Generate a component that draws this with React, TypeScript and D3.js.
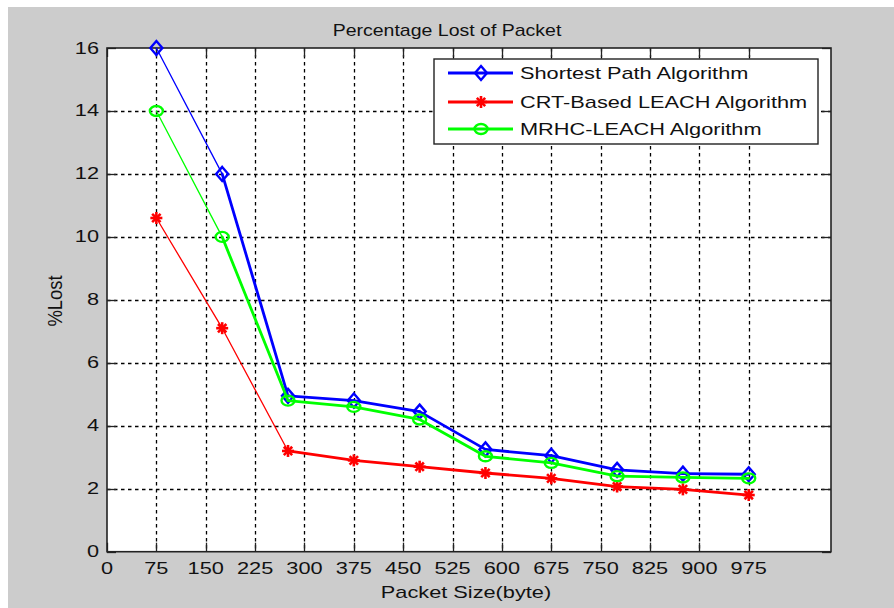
import * as d3 from 'd3';
import React from 'react';

// values
const packetSizes = [75, 175, 275, 375, 475, 575, 675, 775, 875, 975];
const shortestPath = [16, 12, 4.95, 4.8, 4.45, 3.25, 3.05, 2.6, 2.48, 2.46];
const crtLeach = [10.6, 7.1, 3.2, 2.9, 2.7, 2.5, 2.33, 2.07, 1.98, 1.8];
const mrhcLeach = [14, 10, 4.8, 4.6, 4.2, 3.03, 2.82, 2.4, 2.36, 2.33];

const xTicks = [0, 75, 150, 225, 300, 375, 450, 525, 600, 675, 750, 825, 900, 975];
const yTicks = [0, 2, 4, 6, 8, 10, 12, 14, 16];

const seriesNames = ['Shortest Path Algorithm', 'CRT-Based LEACH Algorithm', 'MRHC-LEACH Algorithm'];

type Marker = 'diamond' | 'star' | 'circle';

const series = [
  { name: seriesNames[0], values: shortestPath, color: '#0000ff', marker: 'diamond' as Marker, thin: 1 },
  { name: seriesNames[1], values: crtLeach, color: '#ff0000', marker: 'star' as Marker, thin: 2 },
  { name: seriesNames[2], values: mrhcLeach, color: '#00ff00', marker: 'circle' as Marker, thin: 1 },
];

const W = 894;
const H = 608;
const plot = { left: 107, right: 831, top: 48, bottom: 551.7 };
const FONT = '"Liberation Sans", Arial, sans-serif';
const INK = '#111';
const STRETCH = 1.36;

const x = d3.scaleLinear().domain([0, 1100]).range([plot.left, plot.right]);
const y = d3.scaleLinear().domain([0, 16]).range([plot.bottom, plot.top]);

const MarkerShape: React.FC<{ kind: Marker; cx: number; cy: number; color: string }> = ({ kind, cx, cy, color }) => {
  if (kind === 'diamond') {
    const p = `M${cx},${cy - 7} L${cx + 6},${cy} L${cx},${cy + 7} L${cx - 6},${cy} Z`;
    return <path d={p} fill="none" stroke={color} strokeWidth={2.4} />;
  }
  if (kind === 'circle') {
    return <ellipse cx={cx} cy={cy} rx={6.5} ry={5} fill="none" stroke={color} strokeWidth={2.4} />;
  }
  const r = 6;
  const d = r * 0.7;
  return (
    <g stroke={color} strokeWidth={2.6}>
      <line x1={cx - r} y1={cy} x2={cx + r} y2={cy} />
      <line x1={cx} y1={cy - r} x2={cx} y2={cy + r} />
      <line x1={cx - d} y1={cy - d} x2={cx + d} y2={cy + d} />
      <line x1={cx - d} y1={cy + d} x2={cx + d} y2={cy - d} />
    </g>
  );
};

const SText: React.FC<{
  x: number; y: number; anchor?: string; sx?: number; size?: number; children: React.ReactNode;
}> = ({ x: tx, y: ty, anchor = 'start', sx = STRETCH, size = 16, children }) => (
  <text
    transform={`translate(${tx},${ty}) scale(${sx},1)`}
    textAnchor={anchor}
    fontFamily={FONT}
    fontSize={size}
    fill={INK}
  >
    {children}
  </text>
);

const App: React.FC = () => {
  const tickLen = 9;
  const legend = { x: 434, y: 59, w: 384, h: 85, rows: [73, 102, 129] };
  const px = (v: number) => Math.round(v) + 0.5;

  return (
    <svg
      width={W}
      height={H}
      style={{ position: 'absolute', left: 0, top: 0, display: 'block' }}
    >
      <rect x={0} y={0} width={W} height={H} fill="#ffffff" />
      <rect x={8} y={7} width={W - 8} height={H - 7} fill="#cccccc" />
      <rect
        x={plot.left}
        y={plot.top}
        width={plot.right - plot.left}
        height={plot.bottom - plot.top}
        fill="#ffffff"
      />

      {/* grid */}
      <g stroke="#000" strokeWidth={1.3} strokeDasharray="3.5,3.5">
        {xTicks.filter(t => t > 0).map(t => (
          <line key={`gx${t}`} x1={px(x(t))} x2={px(x(t))} y1={plot.top} y2={plot.bottom} />
        ))}
        {yTicks.filter(t => t > 0 && t < 16).map(t => (
          <line key={`gy${t}`} x1={plot.left} x2={plot.right} y1={px(y(t))} y2={px(y(t))} />
        ))}
      </g>

      {/* ticks on all four sides */}
      <g stroke="#222" strokeWidth={1.3}>
        {xTicks.map(t => (
          <g key={`tx${t}`}>
            <line x1={px(x(t))} x2={px(x(t))} y1={plot.bottom} y2={plot.bottom - tickLen} />
            <line x1={px(x(t))} x2={px(x(t))} y1={plot.top} y2={plot.top + tickLen} />
          </g>
        ))}
        {yTicks.map(t => (
          <g key={`ty${t}`}>
            <line x1={plot.left} x2={plot.left + tickLen} y1={px(y(t))} y2={px(y(t))} />
            <line x1={plot.right} x2={plot.right - tickLen} y1={px(y(t))} y2={px(y(t))} />
          </g>
        ))}
      </g>
      <rect
        x={plot.left}
        y={plot.top}
        width={plot.right - plot.left}
        height={plot.bottom - plot.top}
        fill="none"
        stroke="#222"
        strokeWidth={1.6}
      />

      {/* series */}
      {series.map(s => (
        <g key={s.name}>
          {s.values.slice(1).map((v, i) => (
            <line
              key={i}
              x1={x(packetSizes[i])}
              y1={y(s.values[i])}
              x2={x(packetSizes[i + 1])}
              y2={y(v)}
              stroke={s.color}
              strokeWidth={i < s.thin ? 1.3 : 2.8}
              strokeLinecap="round"
            />
          ))}
          {s.values.map((v, i) => (
            <MarkerShape key={`m${i}`} kind={s.marker} cx={x(packetSizes[i])} cy={y(v)} color={s.color} />
          ))}
        </g>
      ))}

      {/* tick labels */}
      {yTicks.map(t => (
        <SText key={`ly${t}`} x={99} y={y(t) + 5.5} anchor="end">{t}</SText>
      ))}
      {xTicks.map(t => (
        <SText key={`lx${t}`} x={x(t)} y={574} anchor="middle">{t}</SText>
      ))}

      {/* titles */}
      <SText x={447} y={36} anchor="middle" sx={1.22}>Percentage Lost of Packet</SText>
      <SText x={466} y={598} anchor="middle">Packet Size(byte)</SText>
      <text
        transform={`translate(62,301) rotate(-90) scale(1.15,1.3)`}
        textAnchor="middle"
        fontFamily={FONT}
        fontSize={16}
        fill={INK}
      >
        %Lost
      </text>

      {/* legend */}
      <rect x={legend.x} y={legend.y} width={legend.w} height={legend.h} fill="#fff" stroke="#222" strokeWidth={1.4} />
      {series.map((s, i) => (
        <g key={`lg${s.name}`}>
          <line x1={448} x2={513} y1={legend.rows[i]} y2={legend.rows[i]} stroke={s.color} strokeWidth={2.8} />
          <MarkerShape kind={s.marker} cx={481} cy={legend.rows[i]} color={s.color} />
          <SText x={520} y={legend.rows[i] + 6}>{s.name}</SText>
        </g>
      ))}
    </svg>
  );
};

export default App;
